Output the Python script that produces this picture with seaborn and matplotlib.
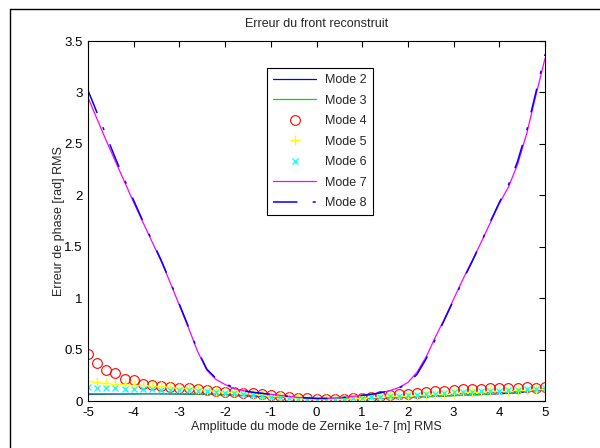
import numpy as np
import pandas as pd
import matplotlib
matplotlib.use("Agg")
import matplotlib.pyplot as plt
from matplotlib.lines import Line2D
import seaborn as sns

# amplitude grid (x axis)
amplitude = [round(-5 + 0.2 * i, 1) for i in range(51)]

mode2 = [0.065, 0.066, 0.067, 0.068, 0.068, 0.069, 0.07, 0.07, 0.07, 0.069, 0.068,
         0.067, 0.066, 0.065, 0.063, 0.06, 0.056, 0.052, 0.048, 0.045, 0.042,
         0.038, 0.034, 0.03, 0.026, 0.022, 0.02, 0.02, 0.022, 0.024, 0.026,
         0.028, 0.03, 0.032, 0.035, 0.038, 0.04, 0.043, 0.046, 0.05, 0.053,
         0.056, 0.06, 0.063, 0.067, 0.07, 0.075, 0.08, 0.09, 0.1, 0.115]
mode3 = [0.07, 0.07, 0.071, 0.072, 0.071, 0.07, 0.071, 0.072, 0.071, 0.07, 0.07,
         0.069, 0.068, 0.067, 0.066, 0.06, 0.05, 0.058, 0.055, 0.05, 0.045,
         0.04, 0.035, 0.03, 0.025, 0.02, 0.018, 0.02, 0.022, 0.025, 0.027,
         0.03, 0.032, 0.035, 0.037, 0.04, 0.042, 0.045, 0.048, 0.05, 0.052,
         0.055, 0.058, 0.062, 0.07, 0.08, 0.085, 0.09, 0.1, 0.11, 0.12]
mode4 = [0.46, 0.37, 0.30, 0.27, 0.21, 0.20, 0.17, 0.16, 0.15, 0.14, 0.13,
         0.125, 0.12, 0.11, 0.10, 0.09, 0.085, 0.08, 0.075, 0.07, 0.06,
         0.05, 0.04, 0.03, 0.025, 0.02, 0.015, 0.02, 0.02, 0.025, 0.03,
         0.035, 0.045, 0.055, 0.065, 0.07, 0.08, 0.09, 0.095, 0.10, 0.11,
         0.12, 0.115, 0.12, 0.125, 0.125, 0.13, 0.13, 0.14, 0.13, 0.14]
mode5 = [0.19, 0.18, 0.175, 0.17, 0.165, 0.16, 0.155, 0.15, 0.145, 0.14, 0.13,
         0.125, 0.12, 0.11, 0.10, 0.09, 0.085, 0.08, 0.07, 0.06, 0.05,
         0.045, 0.04, 0.03, 0.02, 0.015, 0.015, 0.018, 0.02, 0.025, 0.03,
         0.035, 0.04, 0.045, 0.048, 0.05, 0.055, 0.06, 0.065, 0.07, 0.08,
         0.085, 0.09, 0.09, 0.095, 0.10, 0.10, 0.105, 0.11, 0.115, 0.12]
mode6 = [0.14, 0.13, 0.13, 0.125, 0.12, 0.12, 0.115, 0.115, 0.11, 0.11, 0.11,
         0.105, 0.10, 0.095, 0.09, 0.08, 0.075, 0.07, 0.06, 0.05, 0.04,
         0.035, 0.03, 0.02, 0.015, 0.01, 0.012, 0.015, 0.02, 0.025, 0.03,
         0.035, 0.04, 0.045, 0.05, 0.055, 0.06, 0.065, 0.07, 0.08, 0.085,
         0.09, 0.09, 0.095, 0.10, 0.10, 0.105, 0.11, 0.12, 0.12, 0.13]
mode7 = [2.95, 2.74, 2.53, 2.33, 2.13, 1.93, 1.74, 1.55, 1.36, 1.15, 0.93,
         0.71, 0.48, 0.30, 0.21, 0.16, 0.12, 0.10, 0.085, 0.075, 0.065,
         0.055, 0.045, 0.035, 0.03, 0.025, 0.025, 0.03, 0.035, 0.045, 0.055,
         0.065, 0.08, 0.10, 0.13, 0.18, 0.28, 0.43, 0.62, 0.80, 0.99,
         1.18, 1.36, 1.54, 1.73, 1.92, 2.08, 2.30, 2.60, 2.97, 3.33]
mode8 = [3.02, 2.80, 2.58, 2.36, 2.15, 1.95, 1.75, 1.56, 1.37, 1.16, 0.94,
         0.72, 0.49, 0.31, 0.22, 0.17, 0.125, 0.10, 0.085, 0.075, 0.065,
         0.055, 0.045, 0.035, 0.03, 0.025, 0.025, 0.03, 0.035, 0.045, 0.055,
         0.065, 0.08, 0.10, 0.125, 0.17, 0.26, 0.41, 0.60, 0.79, 0.98,
         1.17, 1.35, 1.54, 1.74, 1.93, 2.10, 2.33, 2.63, 3.00, 3.37]

df = pd.DataFrame({"x": amplitude, "m2": mode2, "m3": mode3, "m4": mode4,
                   "m5": mode5, "m6": mode6, "m7": mode7, "m8": mode8})

sns.set_style("white")
plt.rcParams["font.family"] = ["Liberation Sans", "DejaVu Sans"]
plt.rcParams["font.size"] = 9
plt.rcParams["axes.unicode_minus"] = False

fig = plt.figure(figsize=(6.0, 4.48), dpi=100)
fig.patch.set_facecolor("white")
ax = fig.add_axes([88 / 600, 1 - 401 / 448, (545 - 88) / 600, (401 - 41) / 448])

sns.lineplot(data=df, x="x", y="m2", ax=ax, color="#0000ff", lw=0.9, label="Mode 2")
sns.lineplot(data=df, x="x", y="m3", ax=ax, color="#00dd00", lw=0.9, label="Mode 3")
sns.lineplot(data=df, x="x", y="m4", ax=ax, linestyle="", marker="o", ms=7,
             mfc="none", mec="red", mew=0.8, label="Mode 4")
sns.lineplot(data=df, x="x", y="m5", ax=ax, linestyle="", marker="+", ms=6.5,
             mec="#ffff00", mew=1.0, label="Mode 5")
sns.lineplot(data=df, x="x", y="m6", ax=ax, linestyle="", marker="x", ms=4,
             mec="#00ffff", mew=0.9, label="Mode 6")
sns.lineplot(data=df, x="x", y="m7", ax=ax, color="#ff00ff", lw=0.9, label="Mode 7")
sns.lineplot(data=df, x="x", y="m8", ax=ax, color="#0000ff", lw=1.1, label="Mode 8")
ax.lines[-1].set_dashes((16, 10, 2, 10))

ax.set_xlim(-5, 5)
ax.set_ylim(0, 3.5)
ax.set_xticks(range(-5, 6))
ax.set_yticks([0, 0.5, 1, 1.5, 2, 2.5, 3, 3.5])
ax.set_yticklabels(["0", "0.5", "1", "1.5", "2", "2.5", "3", "3.5"])
ax.tick_params(direction="in", length=4, width=0.8, top=True, right=True,
               labelsize=9.5, colors="black", pad=4)
for s in ax.spines.values():
    s.set_visible(True)
    s.set_color("black")
    s.set_linewidth(0.8)

ax.set_xlabel("Amplitude du mode de Zernike 1e-7 [m] RMS", fontsize=9, labelpad=2)
ax.set_ylabel("Erreur de phase [rad] RMS", fontsize=9, labelpad=-1)
ax.set_title("Erreur du front reconstruit", fontsize=9, pad=10)

leg = ax.legend(loc="upper left", bbox_to_anchor=(0.392, 0.925), fontsize=9,
                frameon=True, fancybox=False, edgecolor="black", framealpha=1,
                handlelength=3.4, labelspacing=0.68, borderpad=0.5,
                handletextpad=0.7, borderaxespad=0)
leg.get_frame().set_linewidth(0.8)

# outer figure frame (top and left edges)
fig.add_artist(Line2D([10 / 600, 10 / 600], [0, 1 - 9 / 448], transform=fig.transFigure,
                      color="black", lw=1.0))
fig.add_artist(Line2D([10 / 600, 1], [1 - 9 / 448, 1 - 9 / 448], transform=fig.transFigure,
                      color="black", lw=1.0))

fig.savefig("out.png", dpi=100, facecolor="white")
